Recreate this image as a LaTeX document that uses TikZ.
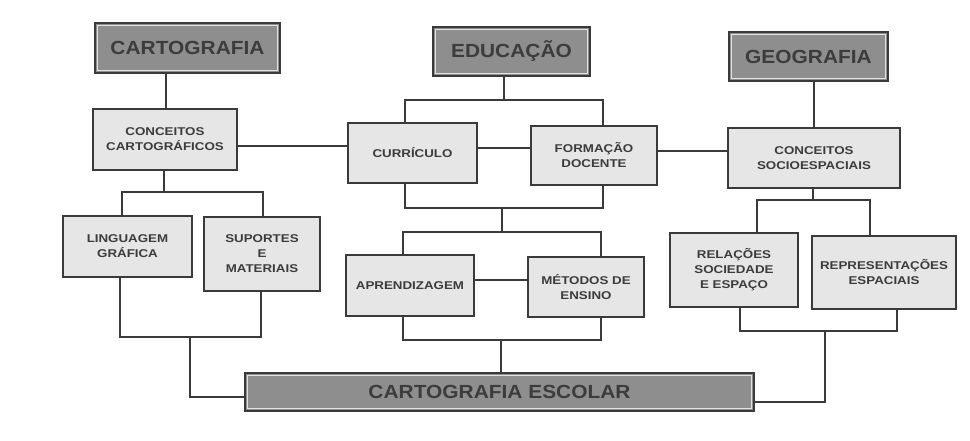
\documentclass[tikz,border=0pt]{standalone}
\usepackage{fontspec}
\setmainfont{Liberation Sans}
\newfontfamily\hdfont{Liberation Sans}[FakeStretch=1.1]
\newfontfamily\infont{Liberation Sans}[FakeStretch=1.18]
\usetikzlibrary{calc}
\definecolor{ink}{HTML}{3A3A3A}
\definecolor{txt}{HTML}{3C3C3C}
\definecolor{headfill}{HTML}{8E8E8E}
\definecolor{boxfill}{HTML}{E6E6E6}
\definecolor{inline}{HTML}{E2E2E2}
\begin{document}
\begin{tikzpicture}[x=1pt,y=-1pt,
  box/.style={draw=ink, line width=1.3pt, fill=boxfill, inner sep=0pt, text=txt, align=center,
    font=\infont\bfseries\fontsize{11.3}{15}\selectfont},
  head/.style={box, fill=headfill, font=\hdfont\bfseries\fontsize{19}{22}\selectfont,
    path picture={\draw[inline, line width=0.9pt]
      ([shift={(2.6pt,-2.6pt)}]path picture bounding box.north west) rectangle
      ([shift={(-2.6pt,2.6pt)}]path picture bounding box.south east);}},
  wire/.style={draw=ink, line width=1.3pt}]
\useasboundingbox (0,0) rectangle (970,441);
\fill[white] (0,0) rectangle (970,441);

% header boxes
\node[head, minimum width=185pt, minimum height=50pt] (cart) at (187.5,48) {CARTOGRAFIA};
\node[head, minimum width=157pt, minimum height=49pt] (edu) at (511.5,51.5) {EDUCAÇÃO};
\node[head, minimum width=159pt, minimum height=49pt] (geo) at (808.5,56.5) {GEOGRAFIA};

% second level
\node[box, minimum width=144pt, minimum height=61pt] (cc) at (165,139.5) {CONCEITOS\\CARTOGRÁFICOS};
\node[box, minimum width=129pt, minimum height=60pt] (cur) at (412.5,153) {CURRÍCULO};
\node[box, minimum width=126pt, minimum height=59pt] (form) at (594,155.5) {FORMAÇÃO\\DOCENTE};
\node[box, minimum width=172pt, minimum height=60pt] (cs) at (814,158) {CONCEITOS\\SOCIOESPACIAIS};

% third level
\node[box, minimum width=129pt, minimum height=61pt] (ling) at (127.5,246.5) {LINGUAGEM\\GRÁFICA};
\node[box, minimum width=116pt, minimum height=74pt] (sup) at (262,254) {SUPORTES\\E\\MATERIAIS};
\node[box, minimum width=128pt, minimum height=61pt] (apr) at (410,285.5) {APRENDIZAGEM};
\node[box, minimum width=116pt, minimum height=60pt] (met) at (586,287) {MÉTODOS DE\\ENSINO};
\node[box, minimum width=128pt, minimum height=74pt] (rel) at (734,270) {RELAÇÕES\\SOCIEDADE\\E ESPAÇO};
\node[box, minimum width=144pt, minimum height=73pt] (rep) at (884,272.5) {REPRESENTAÇÕES\\ESPACIAIS};

% bottom
\node[head, minimum width=509pt, minimum height=38pt] (esc) at (499.5,392) {CARTOGRAFIA ESCOLAR};

% connectors: cartografia branch
\draw[wire] (166,0 |- cart.south) -- (166,0 |- cc.north);
\draw[wire] (cc.east |- 0,146) -- (cur.west |- 0,146);
\draw[wire] (164,0 |- cc.south) -- (164,192);
\draw[wire] (122,0 |- ling.north) |- (263,192) -- (263,0 |- sup.north);
\draw[wire] (120,0 |- ling.south) |- (261,337) -- (261,0 |- sup.south);
\draw[wire] (190,337) |- ($(esc.west)+(0,5)$);

% educacao branch
\draw[wire] (504,0 |- edu.south) -- (504,100);
\draw[wire] (405,0 |- cur.north) |- (603,100) -- (603,0 |- form.north);
\draw[wire] (cur.east |- 0,148) -- (form.west |- 0,148);
\draw[wire] (405,0 |- cur.south) |- (603,208) -- (603,0 |- form.south);
\draw[wire] (502,208) -- (502,232);
\draw[wire] (403,0 |- apr.north) |- (601,232) -- (601,0 |- met.north);
\draw[wire] (apr.east |- 0,280) -- (met.west |- 0,280);
\draw[wire] (403,0 |- apr.south) |- (601,340) -- (601,0 |- met.south);
\draw[wire] (501,340) -- (501,0 |- esc.north);

% geografia branch
\draw[wire] (form.east |- 0,151) -- (cs.west |- 0,151);
\draw[wire] (814,0 |- geo.south) -- (814,0 |- cs.north);
\draw[wire] (813,0 |- cs.south) -- (813,200);
\draw[wire] (757,0 |- rel.north) |- (870,200) -- (870,0 |- rep.north);
\draw[wire] (740,0 |- rel.south) |- (897,331) -- (897,0 |- rep.south);
\draw[wire] (825,331) |- ($(esc.east)+(0,10)$);
\end{tikzpicture}
\end{document}
